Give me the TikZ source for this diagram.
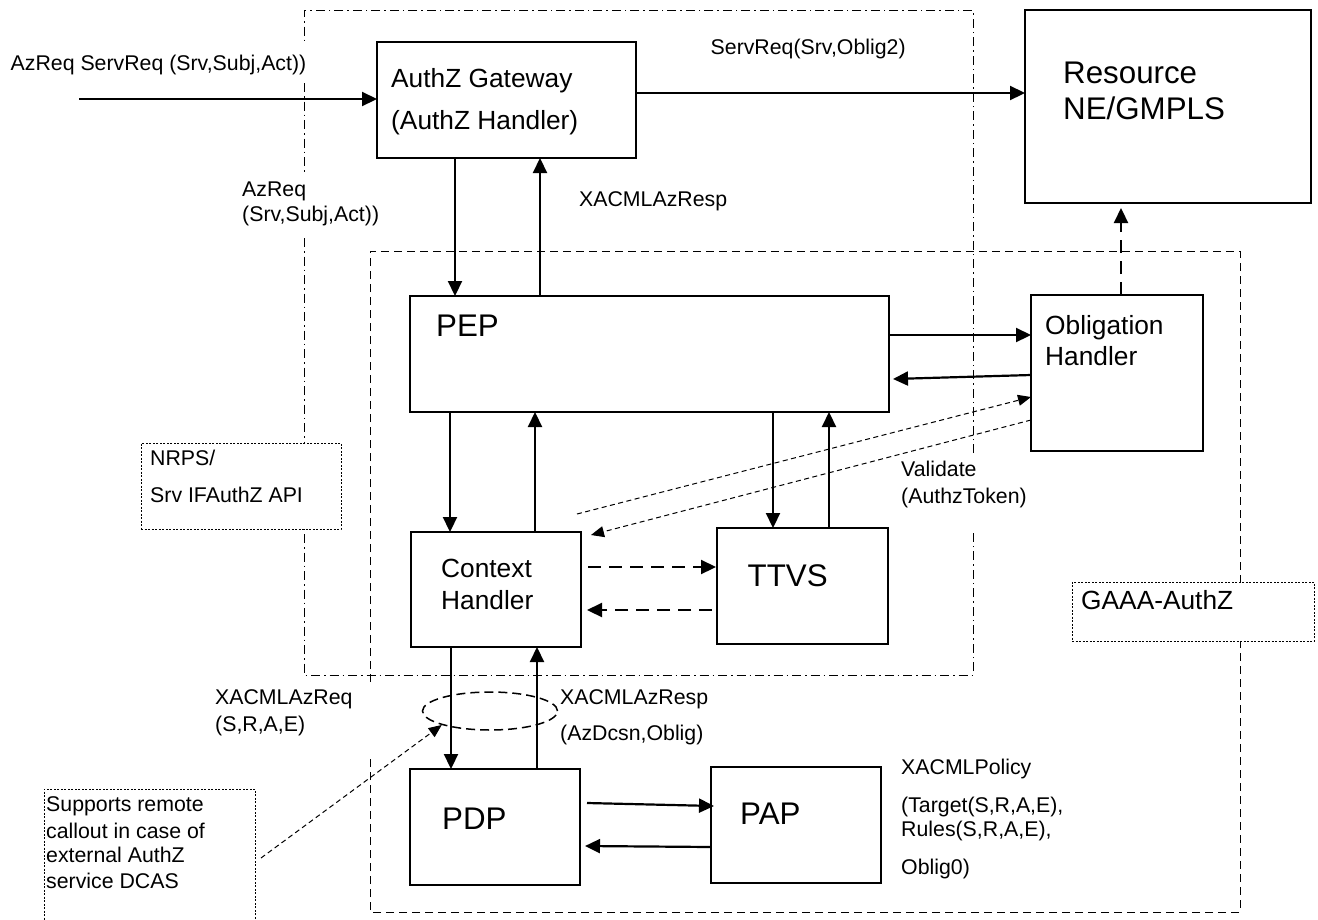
\documentclass[tikz,border=0pt]{standalone}
\usepackage{fontspec}
\setmainfont{Liberation Sans}
\usetikzlibrary{arrows.meta}
\usetikzlibrary{shapes.geometric}

\tikzset{
	blk/.style={draw, line width=2.2pt, fill=white, inner sep=0pt, outer sep=0pt},
	memo/.style={draw, line width=0.8pt, dash pattern=on 2pt off 1.5pt, fill=white, inner sep=0pt, outer sep=0pt},
	sm/.style={font=\fontsize{21.3}{25}\selectfont, inner sep=0pt, align=left, anchor=base west},
	md/.style={font=\fontsize{26.3}{32}\selectfont, inner sep=0pt, align=left, anchor=base west},
	lg/.style={font=\fontsize{31.3}{36}\selectfont, inner sep=0pt, align=left, anchor=base west},
	arr/.style={line width=2.2pt, -{Triangle[length=15pt,width=14pt]}},
	darr/.style={arr, dash pattern=on 13pt off 8pt},
	tarr/.style={line width=1pt, dash pattern=on 5pt off 3.5pt, -{Triangle[length=13pt,width=11pt]}}
}

\begin{document}
\begin{tikzpicture}[x=1pt, y=-1pt]
		\useasboundingbox (0,0) rectangle (1318,919);
		\draw[line width=1pt, dash pattern=on 9pt off 4pt on 1.5pt off 4pt] (973,453) -- (973,10) -- (304,10) -- (304,43) (304,83) -- (304,173) (304,238) -- (304,675) -- (973,675) -- (973,530);
		\draw[line width=1pt, dash pattern=on 8pt off 5pt] (370,682) -- (370,251) -- (1240,251) -- (1240,912) -- (370,912) -- (370,755);

		\node[blk, minimum width=259, minimum height=116] (gw) at (506.5,100) {};
		\node[blk, minimum width=286, minimum height=193] (res) at (1168,106.5) {};
		\node[blk, minimum width=479, minimum height=116] (pep) at (649.5,354) {};
		\node[blk, minimum width=172, minimum height=156] (obl) at (1117,373) {};
		\node[blk, minimum width=170, minimum height=115] (ctx) at (496,589.5) {};
		\node[blk, minimum width=171, minimum height=116] (ttvs) at (802.5,586) {};
		\node[blk, minimum width=170, minimum height=116] (pdp) at (495,827) {};
		\node[blk, minimum width=170, minimum height=116] (pap) at (796,825) {};
		\node[memo, minimum width=200, minimum height=86] (nrps) at (241,486) {};
		\node[memo, minimum width=242, minimum height=59] (gaaa) at (1193,611.5) {};
		\node[memo, minimum width=211, minimum height=146] (sup) at (149.5,862) {};
		\node[ellipse, draw, line width=1.5pt, dash pattern=on 9pt off 5pt, minimum width=135, minimum height=38, inner sep=0pt] (grp) at (490,711) {};

		\node[md] (gwtxt) at (391,129.5) {AuthZ Gateway\\[10pt](AuthZ Handler)};
		\node[lg] (restxt) at (1063,119.3) {Resource\\NE/GMPLS};
		\node[lg] (peptxt) at (436,336.3) {PEP};
		\node[md] (obltxt) at (1045,365.5) {Obligation\\[-1pt]Handler};
		\node[md] (ctxtxt) at (441,609.5) {Context\\Handler};
		\node[lg] (ttvstxt) at (747.5,586.3) {TTVS};
		\node[lg] (pdptxt) at (442,829.3) {PDP};
		\node[lg] (paptxt) at (740,824.3) {PAP};
		\node[md] (gaaatxt) at (1081,609.5) {GAAA-AuthZ};
		\node[sm] (nrpstxt) at (150,502.7) {NRPS/\\[12pt]Srv IFAuthZ API};
		\node[sm] (suptxt) at (46,888.7) {Supports remote\\[2pt]callout in case of\\[-1pt]external AuthZ\\[1pt]service DCAS};

		\node[sm] (inlbl) at (10.5,70.7) {AzReq ServReq (Srv,Subj,Act))};
		\node[sm] (outlbl) at (710.5,54.7) {ServReq(Srv,Oblig2)};
		\node[sm] (reqlbl) at (242,221.7) {AzReq\\(Srv,Subj,Act))};
		\node[sm] (resplbl) at (579,206.7) {XACMLAzResp};
		\node[sm] (vallbl) at (901,503.7) {Validate\\[2pt](AuthzToken)};
		\node[sm] (xreqlbl) at (215,731.7) {XACMLAzReq\\[2pt](S,R,A,E)};
		\node[sm] (xresplbl) at (560,740.7) {XACMLAzResp\\[11pt](AzDcsn,Oblig)};
		\node[sm] (pollbl) at (901,874.7) {XACMLPolicy\\[13pt](Target(S,R,A,E),\\[-1pt]Rules(S,R,A,E),\\[13pt]Oblig0)};

		\coordinate (src) at (79,99);
		\draw[arr] (src) -- (src -| gw.west);
		\draw[arr] ([yshift=7]gw.east) -- ([yshift=13.5]res.west);
		\draw[arr] ([xshift=78]gw.south west) -- ([xshift=45]pep.north west);
		\draw[arr] ([xshift=130]pep.north west) -- ([xshift=163]gw.south west);
		\draw[arr] ([yshift=19]pep.east) -- ([yshift=38]obl.west);
		\draw[arr] ([yshift=-2]obl.west) -- ([xshift=4,yshift=-25]pep.east);
		\draw[darr] ([xshift=4]obl.north) -- ([xshift=-47,yshift=-5]res.south);
		\draw[arr] ([xshift=40]pep.south west) -- ([xshift=39]ctx.north west);
		\draw[arr] ([xshift=124]ctx.north west) -- ([xshift=125]pep.south west);
		\draw[arr] ([xshift=363]pep.south west) -- ([xshift=56]ttvs.north west);
		\draw[arr] ([xshift=112]ttvs.north west) -- ([xshift=419]pep.south west);
		\draw[darr] ([xshift=7,yshift=22.5]ctx.east) -- ([xshift=-1,yshift=19]ttvs.west);
		\draw[darr] ([xshift=-5,yshift=-24]ttvs.west) -- ([xshift=6,yshift=-20.5]ctx.east);
		\draw[tarr] ([xshift=-4,yshift=18]ctx.north east) -- ([yshift=-24]obl.west);
		\draw[tarr] ([yshift=-47]obl.west) -- ([xshift=10,yshift=-3]ctx.north east);
		\draw[arr] ([xshift=40]ctx.south west) -- ([xshift=41]pdp.north west);
		\draw[arr] ([xshift=127]pdp.north west) -- ([xshift=126]ctx.south west);
		\draw[arr] ([xshift=7,yshift=24]pdp.east) -- ([xshift=3,yshift=19]pap.west);
		\draw[arr] ([yshift=-22]pap.west) -- ([xshift=5,yshift=-19]pdp.east);
		\draw[tarr] ([xshift=6,yshift=4]sup.east) -- (grp.south west);
	\end{tikzpicture}
\end{document}
